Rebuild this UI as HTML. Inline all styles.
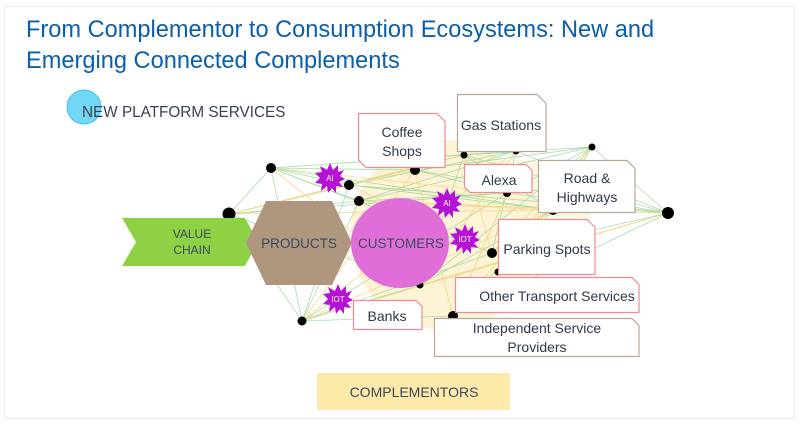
<!DOCTYPE html>
<html><head><style>
html,body{margin:0;padding:0;background:#fff;}
svg{display:block;}
text{font-family:"Liberation Sans","Noto Sans CJK JP",sans-serif;}
</style></head><body>
<svg width="800" height="424" viewBox="0 0 800 424" xmlns="http://www.w3.org/2000/svg">
<defs>
<polygon id="b" points="0,-15 3,-8 8,-13 8,-6 14,-8 10,-2 15,1 9,4 13,9 6,8 6,15 2,10 -2,15 -3,8 -9,13 -8,6 -15,5 -10,0 -15,-5 -8,-6 -10,-12 -3,-8"/>
</defs>
<rect x="4.5" y="6.5" width="790" height="412" fill="#fff" stroke="#e4ecf5" stroke-width="1"/>
<text x="26" y="37" font-size="23.6" fill="#0a5fad">From Complementor to Consumption Ecosystems: New and</text>
<text x="26" y="68" font-size="23.6" fill="#0a5fad">Emerging Connected Complements</text>
<circle cx="84" cy="107" r="17" fill="#72d6f5" stroke="#3cc3ea" stroke-width="1"/>
<text x="82" y="117" font-size="15.3" fill="#3a4250">NEW PLATFORM SERVICES</text>

<ellipse cx="445" cy="235" rx="95" ry="95" fill="#fdf0cc" opacity="0.8"/>
<ellipse cx="520" cy="220" rx="70" ry="60" fill="#fdf3d8" opacity="0.7"/>

<g stroke-width="0.8" opacity="0.75">
<g stroke="#8fd08f">
<path d="M271 168L349 185M271 168L415 170M271 168L229 214M271 168L302 321M271 168L359 201M271 168L464 155M229 214L349 185M229 214L302 321M229 214L359 201M349 185L464 155M349 185L516 151M415 170L592 147M415 170L507 193M464 155L592 147M464 155L553 210M516 151L668 213M592 147L668 213M507 193L668 213M553 210L668 213M492 253L668 213M420 285L553 210M302 321L420 285M302 321L359 201M453 316L507 193M453 316L668 213M420 285L668 213M492 253L592 147M349 185L553 210M359 201L516 151M302 321L349 185M420 285L464 155M271 168L492 253M229 214L420 285M507 193L592 147M553 210L592 147M453 316L553 210M302 321L453 316M415 170L668 213M464 155L668 213M359 201L507 193M420 285L516 151M492 253L516 151M302 321L492 253M271 168L553 210M229 214L507 193M302 321L507 193M349 185L668 213M359 201L592 147M420 285L592 147M271 168L516 151"/>
</g>
<g stroke="#f0cf6a">
<path d="M271 168L420 285M229 214L415 170M302 321L415 170M349 185L492 253M359 201L553 210M415 170L453 316M464 155L492 253M507 193L453 316M516 151L420 285M592 147L492 253M668 213L420 285M668 213L302 321M553 210L302 321M271 168L507 193M229 214L464 155M492 253L553 210M453 316L592 147M359 201L668 213M229 214L553 210M302 321L516 151"/>
</g>
</g>

<g fill="#000">
<circle cx="271" cy="168" r="5"/><circle cx="349" cy="185" r="5"/><circle cx="359" cy="201" r="5"/>
<circle cx="415" cy="170" r="5"/><circle cx="464" cy="155" r="3.5"/><circle cx="516" cy="151" r="3.5"/>
<circle cx="592" cy="147" r="3.5"/><circle cx="507" cy="193" r="4"/><circle cx="553" cy="210" r="5"/>
<circle cx="668" cy="213" r="6"/><circle cx="492" cy="253" r="5"/><circle cx="420" cy="285" r="3.5"/>
<circle cx="302" cy="321" r="4.5"/><circle cx="453" cy="316" r="5"/><circle cx="229" cy="214" r="6.5"/>
<circle cx="498" cy="272" r="3.5"/>
</g>

<polygon points="122,218 245,218 258,242 245,266 122,266 136,242" fill="#8ed144"/>
<text x="192" y="238" font-size="12" fill="#3b4a5a" text-anchor="middle">VALUE</text>
<text x="192" y="254" font-size="12" fill="#3b4a5a" text-anchor="middle">CHAIN</text>
<polygon points="246,243 266,201 332,201 352,243 332,285 266,285" fill="#ae967f"/>
<text x="299" y="248" font-size="13.5" fill="#3b4a5a" text-anchor="middle">PRODUCTS</text>
<ellipse cx="400" cy="243" rx="49" ry="45" fill="#e06ed8"/>
<text x="401" y="248" font-size="13.5" fill="#3b4a5a" text-anchor="middle">CUSTOMERS</text>

<g fill="#b512d6">
<use href="#b" x="330" y="178"/><use href="#b" x="447" y="203"/>
<use href="#b" x="465" y="239"/><use href="#b" x="338" y="299"/>
</g>
<g font-size="8" fill="#fff" text-anchor="middle">
<text x="330" y="181">AI</text><text x="447" y="206">AI</text>
<text x="465" y="242">IOT</text><text x="338" y="302">IOT</text>
</g>

<g fill="#fff" stroke-width="1.2">
<path d="M358.5 113.5H437l8 8V167.5H366l-7.5-7.5Z" stroke="#f08a94"/>
<path d="M457.5 94.5H537l9 9V151.5H457.5Z" stroke="#b8a898"/>
<path d="M464.5 164.5H526l6 6V192.5H470l-5.5-5.5Z" stroke="#f08a94"/>
<path d="M538.5 160.5H627l8 8V212.5H538.5Z" stroke="#b8a898"/>
<path d="M498.5 219.5H587l8 8V274.5H498.5Z" stroke="#f08a94"/>
<path d="M455.5 277.5H632l7 7V312.5H455.5Z" stroke="#f08a94"/>
<path d="M353.5 300.5H416l6 6V329.5H353.5Z" stroke="#f08a94"/>
<path d="M434.5 318.5H632l7 7V356.5H434.5Z" stroke="#b8a898"/>
</g>
<g font-size="14" fill="#2e3a48" text-anchor="middle">
<text x="402" y="137">Coffee</text><text x="402" y="156">Shops</text>
<text x="501" y="130">Gas Stations</text>
<text x="499" y="185">Alexa</text>
<text x="587" y="183">Road &amp;</text><text x="587" y="202">Highways</text>
<text x="547" y="254">Parking Spots</text>
<text x="557" y="301">Other Transport Services</text>
<text x="387" y="321">Banks</text>
<text x="537" y="333">Independent Service</text><text x="537" y="352">Providers</text>
</g>

<rect x="317" y="373" width="193" height="37" fill="#fde9a9"/>
<text x="414" y="397" font-size="14" fill="#3b4a5a" text-anchor="middle">COMPLEMENTORS</text>
</svg>
</body></html>
